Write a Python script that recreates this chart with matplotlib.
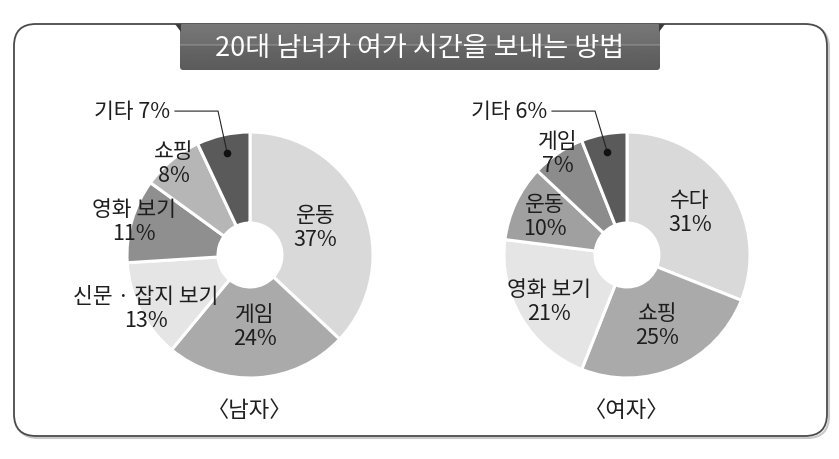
import matplotlib.pyplot as plt
import numpy as np
from matplotlib.patches import FancyBboxPatch, Polygon

plt.rcParams['font.family'] = ['Noto Sans CJK KR', 'DejaVu Sans']

title = "20대 남녀가 여가 시간을 보내는 방법"

male_labels = ["운동", "게임", "신문 · 잡지 보기", "영화 보기", "쇼핑", "기타"]
male_values = [37, 24, 13, 11, 8, 7]
female_labels = ["수다", "쇼핑", "영화 보기", "운동", "게임", "기타"]
female_values = [31, 25, 21, 10, 7, 6]
group_names = ["〈남자〉", "〈여자〉"]

male_colors = ["#d9d9d9", "#aaaaaa", "#e5e5e5", "#8f8f8f", "#b6b6b6", "#5a5a5a"]
female_colors = ["#d9d9d9", "#aaaaaa", "#e5e5e5", "#a0a0a0", "#8c8c8c", "#5a5a5a"]
# where each label sits (fraction of radius), None -> callout outside
male_label_r = [0.58, 0.58, 0.95, 0.98, 0.97, None]
female_label_r = [0.62, 0.62, 0.74, 0.74, 1.0, None]

W, H = 839, 460
TXT = "#1e1e1e"
fig = plt.figure(figsize=(W / 100, H / 100), dpi=100)

# background layer in pixel coords
bg = fig.add_axes([0, 0, 1, 1])
bg.set_xlim(0, W)
bg.set_ylim(H, 0)
bg.axis('off')

shadow = FancyBboxPatch((16, 27), 813, 412, boxstyle="round,pad=0,rounding_size=22",
                        fc='none', ec='#c8c8c8', lw=1.5)
bg.add_patch(shadow)
frame = FancyBboxPatch((14, 25), 813, 412, boxstyle="round,pad=0,rounding_size=22",
                       fc='white', ec='#4a4a4a', lw=1.3)
bg.add_patch(frame)

# title banner
bx0, bx1, by0, by1 = 180, 660, 25, 71
grad = np.concatenate([np.linspace(0.47, 0.43, 20), [0.52, 0.49],
                       np.linspace(0.40, 0.36, 24)])[:, None]
banner = FancyBboxPatch((bx0, by0), bx1 - bx0, by1 - by0,
                        boxstyle="round,pad=0,rounding_size=3", fc='none', ec='none')
bg.add_patch(banner)
im = bg.imshow(grad, cmap='gray', vmin=0, vmax=1, aspect='auto',
               extent=(bx0, bx1, by1, by0), zorder=2)
im.set_clip_path(banner)
bg.add_patch(Polygon([(175, 25), (181, 25), (181, 33)], closed=True, fc='#3c3c3c', ec='none', zorder=3))
bg.add_patch(Polygon([(665, 25), (659, 25), (659, 33)], closed=True, fc='#3c3c3c', ec='none', zorder=3))
bg.text((bx0 + bx1) / 2, 48, title, color='white', fontsize=19.5, ha='center', va='center', zorder=4)


def add_pie(cx, cy, R, values, labels, colors, label_r, name):
    ax = fig.add_axes([(cx - R) / W, (H - cy - R) / H, 2 * R / W, 2 * R / H])
    wedges, _ = ax.pie(values, colors=colors, startangle=90, counterclock=False, radius=1,
                       wedgeprops=dict(width=0.74, edgecolor='white', linewidth=2.2))
    ax.set_xlim(-1, 1)
    ax.set_ylim(-1, 1)
    ax.set_aspect('equal')
    ax.axis('off')
    for w, lab, v, r in zip(wedges, labels, values, label_r):
        ang = np.deg2rad((w.theta1 + w.theta2) / 2)
        if r is not None:
            ax.text(r * np.cos(ang), r * np.sin(ang), f"{lab}\n{v}%", ha='center', va='center',
                    fontsize=15.5, color=TXT, linespacing=1.12)
        else:
            dx, dy = 0.85 * np.cos(ang), 0.85 * np.sin(ang)
            ax.text(-0.65, 1.17, f"{lab} {v}%", ha='right', va='center', fontsize=15.5, color=TXT)
            ax.plot([-0.61, -0.26, dx], [1.17, 1.17, dy], color='#222222', lw=0.8, clip_on=False)
            ax.plot(dx, dy, 'o', color='#111111', ms=4.5, clip_on=False)
    bg.text(cx, 411, name, ha='center', va='center', fontsize=16, color=TXT)


add_pie(250, 256, 123, male_values, male_labels, male_colors, male_label_r, group_names[0])
add_pie(627, 256, 123, female_values, female_labels, female_colors, female_label_r, group_names[1])

fig.savefig("out.png", dpi=100)
